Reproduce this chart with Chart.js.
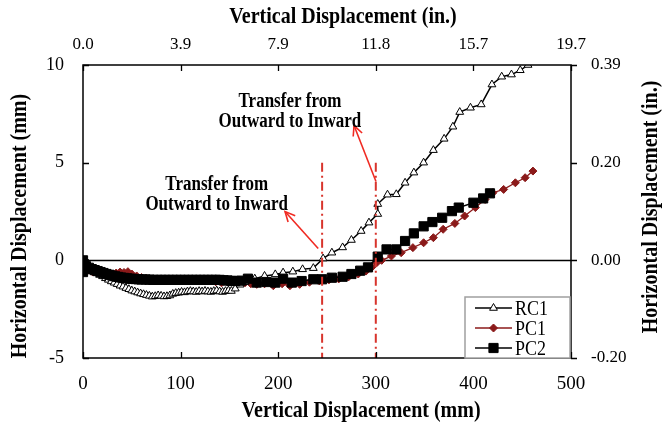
<!DOCTYPE html>
<html><head><meta charset="utf-8">
<script src="https://cdn.jsdelivr.net/npm/chart.js@4/dist/chart.umd.min.js"></script>
<style>html,body{margin:0;padding:0;background:#fff}#wrap{width:666px;height:427px;position:relative}</style>
</head><body><div id="wrap"><canvas id="c"></canvas></div>
<script>
// ---- data (mm) ----
const rc1X = [0,2,5,8,11,14,17,20,23,26,29,32,35,38,41,44,47,50,53,56,59,62,65,68,71,74,77,80,83,86,89,92,95,98,101,104,107,110,113,116,119,122,125,128,131,134,137,140,143,146,149,152,156,161,166,176,186,197,205,215,225,236,246,255,266,275,285,293,302,302,312,321,330,339,349,359,370,379,386,397,408,419,429,439,448,456];
const rc1Y = [0,-0.15,-0.3,-0.42,-0.55,-0.65,-0.75,-0.82,-0.92,-1.0,-1.08,-1.15,-1.22,-1.3,-1.35,-1.42,-1.48,-1.55,-1.6,-1.65,-1.7,-1.74,-1.78,-1.82,-1.86,-1.84,-1.8,-1.82,-1.85,-1.84,-1.8,-1.72,-1.68,-1.66,-1.62,-1.64,-1.6,-1.58,-1.6,-1.62,-1.58,-1.6,-1.57,-1.6,-1.62,-1.58,-1.55,-1.6,-1.62,-1.58,-1.55,-1.57,-1.45,-1.25,-1.12,-0.94,-0.8,-0.72,-0.63,-0.58,-0.46,-0.4,0.09,0.39,0.66,1.04,1.5,1.93,2.37,2.88,3.36,3.38,3.97,4.49,5.0,5.64,6.22,6.84,7.59,7.81,7.98,9.0,9.4,9.51,9.73,10.0];
const pc1X = [0,3,6,10,14,18,22,26,30,34,38,42,46,50,55,60,65,70,76,82,88,94,100,106,112,118,124,130,136,142,148,154,160,166,172,178,186,195,204,212,222,232,242,252,262,272,282,290,296,301,306,316,326,338,349,359,369,381,391,402,412,420,431,443,453,461];
const pc1Y = [0,-0.35,-0.5,-0.6,-0.62,-0.65,-0.68,-0.7,-0.7,-0.65,-0.6,-0.62,-0.58,-0.7,-0.8,-0.88,-0.93,-0.97,-1.0,-1.0,-1.0,-1.02,-1.0,-1.02,-1.0,-1.03,-1.05,-1.04,-1.1,-1.15,-1.1,-1.08,-1.12,-1.15,-1.2,-1.23,-1.2,-1.3,-1.2,-1.3,-1.23,-1.12,-1.05,-1.0,-0.95,-0.85,-0.7,-0.55,-0.35,-0.12,0.0,0.22,0.39,0.65,0.9,1.16,1.59,1.89,2.27,2.7,3.12,3.46,3.63,3.97,4.23,4.57];
const pc2X = [0,0,0,1,3,6,9,12,15,18,21,24,27,30,33,36,39,42,45,48,51,54,57,60,64,68,72,76,80,84,88,92,96,100,104,108,112,116,120,124,128,132,136,140,144,148,152,156,162,169,178,188,197,205,214,224,236,245,255,266,275,284,292,302,311,321,330,339,349,358,368,378,385,400,410,417];
const pc2Y = [0,-0.3,-0.6,-0.2,-0.3,-0.38,-0.45,-0.5,-0.55,-0.6,-0.65,-0.7,-0.74,-0.78,-0.82,-0.85,-0.88,-0.9,-0.92,-0.94,-0.95,-0.96,-0.97,-0.98,-0.98,-0.99,-1.0,-1.0,-1.0,-1.0,-1.0,-1.0,-1.0,-1.0,-1.0,-1.0,-1.0,-1.0,-1.0,-1.0,-1.0,-1.0,-1.0,-1.0,-1.02,-1.03,-1.05,-1.06,-1.04,-0.94,-1.14,-1.11,-1.14,-0.94,-1.14,-1.06,-0.97,-0.97,-0.89,-0.84,-0.7,-0.53,-0.36,0.19,0.56,0.56,0.99,1.38,1.74,1.96,2.18,2.52,2.7,2.95,3.17,3.43];
const seriesNames = ['RC1','PC1','PC2'];
const bottomTicks = [0,100,200,300,400,500];
const topTickLabels = ['0.0','3.9','7.9','11.8','15.7','19.7'];
const leftTicks = [10,5,0,-5];
const rightTickLabels = ['0.39','0.20','0.00','-0.20'];
const transferLinesX = [245,300];      // mm, vertical dash-dot markers
const transferLineRange = [-5,5];
// annotation: text centre, arrow tail, arrow head (data units)
const noteText = ['Transfer from','Outward to Inward'];
const note1 = {tx:137, ty:3.35, ax0:241, ay0:0.61, ax1:207, ay1:2.5};
const note2 = {tx:212, ty:7.6, ax0:300.2, ay0:4.04, ax1:277.7, ay1:6.9};

const FONT = '"Liberation Serif", "Times New Roman", serif';
const DARKRED = '#8b1a1a';
const STRETCH = 1.2;
const zip = (xs,ys)=>xs.map((x,i)=>({x, y:ys[i]}));

function tallText(ctx, txt, x, y, font, rot){
  ctx.save();
  ctx.translate(x,y);
  if (rot) ctx.rotate(rot);
  ctx.scale(1, STRETCH);
  ctx.font = font; ctx.fillStyle='#000'; ctx.textAlign='center'; ctx.textBaseline='middle';
  ctx.fillText(txt, 0, 0);
  ctx.restore();
}

const deco = {
  id:'deco',
  beforeDatasetsDraw(chart){
    const {ctx, chartArea:a, scales:{x,y}} = chart;
    ctx.save();
    ctx.strokeStyle='#000'; ctx.lineWidth=1.3;
    const y0 = Math.round(y.getPixelForValue(0))+0.5;
    ctx.beginPath(); ctx.moveTo(a.left,y0); ctx.lineTo(a.right,y0); ctx.stroke();
    ctx.restore();
  },
  afterDatasetsDraw(chart){
    const {ctx, chartArea:a, scales:{x,y}} = chart;
    ctx.save();
    // dash-dot lines
    ctx.strokeStyle='#d8342c'; ctx.lineWidth=2; ctx.setLineDash([9,4,2,4]);
    transferLinesX.forEach(v=>{
      const px = x.getPixelForValue(v);
      ctx.beginPath(); ctx.moveTo(px, y.getPixelForValue(transferLineRange[1]));
      ctx.lineTo(px, y.getPixelForValue(transferLineRange[0])); ctx.stroke();
    });
    ctx.setLineDash([]);
    // arrows + notes
    [note1,note2].forEach(n=>{
      const x0=x.getPixelForValue(n.ax0), y0=y.getPixelForValue(n.ay0);
      const x1=x.getPixelForValue(n.ax1), y1=y.getPixelForValue(n.ay1);
      ctx.strokeStyle='#f02a22'; ctx.lineWidth=1.6;
      ctx.beginPath(); ctx.moveTo(x0,y0); ctx.lineTo(x1,y1); ctx.stroke();
      const ang=Math.atan2(y0-y1,x0-x1), L=11, sp=0.45;
      ctx.beginPath();
      ctx.moveTo(x1+L*Math.cos(ang+sp), y1+L*Math.sin(ang+sp));
      ctx.lineTo(x1,y1);
      ctx.lineTo(x1+L*Math.cos(ang-sp), y1+L*Math.sin(ang-sp));
      ctx.stroke();
      const cx=x.getPixelForValue(n.tx), cy=y.getPixelForValue(n.ty);
      tallText(ctx, noteText[0], cx, cy-10, 'bold 17px '+FONT);
      tallText(ctx, noteText[1], cx, cy+10, 'bold 17px '+FONT);
    });
    // frame
    ctx.strokeStyle='#000'; ctx.lineWidth=1.5;
    ctx.strokeRect(a.left, a.top, a.right-a.left, a.bottom-a.top);
    // ticks
    ctx.lineWidth=1.3;
    const T=6;
    bottomTicks.forEach(v=>{
      const px=Math.round(x.getPixelForValue(v))+0.5;
      ctx.beginPath(); ctx.moveTo(px,a.bottom); ctx.lineTo(px,a.bottom-T);
      ctx.moveTo(px,a.top); ctx.lineTo(px,a.top+T); ctx.stroke();
    });
    leftTicks.forEach(v=>{
      const py=Math.round(y.getPixelForValue(v))+0.5;
      ctx.beginPath(); ctx.moveTo(a.left,py); ctx.lineTo(a.left+T,py);
      ctx.moveTo(a.right,py); ctx.lineTo(a.right+T,py); ctx.stroke();
    });
    // legend
    const lx=465, ly=297, lw=105, lh=61;
    ctx.fillStyle='#fff'; ctx.fillRect(lx,ly,lw,lh);
    ctx.strokeStyle='#a0a0a0'; ctx.lineWidth=1.5; ctx.strokeRect(lx,ly,lw,lh);
    chart.data.datasets.forEach((ds,i)=>{
      const yy = 308 + i*20;
      ctx.strokeStyle=ds.borderColor; ctx.lineWidth=1.5;
      ctx.beginPath(); ctx.moveTo(475,yy); ctx.lineTo(512,yy); ctx.stroke();
      ctx.save();
      ctx.fillStyle=ds.pointBackgroundColor; ctx.strokeStyle=ds.pointBorderColor; ctx.lineWidth=1;
      Chart.helpers.drawPoint(ctx,{pointStyle:ds.pointStyle, radius:ds.pointRadius, borderWidth:1, rotation:0},493.5,yy);
      ctx.restore();
      ctx.save();
      ctx.translate(515, yy+1); ctx.scale(1, STRETCH);
      ctx.fillStyle='#000'; ctx.font='18px '+FONT; ctx.textAlign='left'; ctx.textBaseline='middle';
      ctx.fillText(ds.label, 0, 0);
      ctx.restore();
    });
    ctx.restore();
  },
  afterDraw(chart){
    const ctx=chart.ctx;
    const f='bold 20px '+FONT;
    tallText(ctx,'Vertical Displacement (mm)', 361, 411, f);
    tallText(ctx,'Vertical Displacement (in.)', 343, 17, f);
    tallText(ctx,'Horizontal Displacement (mm)', 20, 226, f, -Math.PI/2);
    tallText(ctx,'Horizontal Displacement (in.)', 651, 207, f, -Math.PI/2);
  }
};

new Chart(document.getElementById('c'), {
  type:'scatter',
  data:{datasets:[
    {label:seriesNames[0], data:zip(rc1X,rc1Y), showLine:true, borderColor:'#000', borderWidth:1.5,
     pointStyle:'triangle', pointRadius:4.5, pointBackgroundColor:'#fff', pointBorderColor:'#000', pointBorderWidth:1, order:1},
    {label:seriesNames[1], data:zip(pc1X,pc1Y), showLine:true, borderColor:DARKRED, borderWidth:1.3,
     pointStyle:'rectRot', pointRadius:4, pointBackgroundColor:DARKRED, pointBorderColor:DARKRED, pointBorderWidth:1, order:2},
    {label:seriesNames[2], data:zip(pc2X,pc2Y), showLine:true, borderColor:'#000', borderWidth:1.5,
     pointStyle:'rect', pointRadius:6.5, pointBackgroundColor:'#000', pointBorderColor:'#000', pointBorderWidth:1, order:0}
  ]},
  options:{
    responsive:true, maintainAspectRatio:false, animation:false,
    layout:{padding:0},
    plugins:{legend:{display:false}, tooltip:{enabled:false}},
    elements:{line:{tension:0}},
    scales:{
      x:{type:'linear', position:'bottom', min:0, max:500,
         afterBuildTicks:s=>{s.ticks=bottomTicks.map(v=>({value:v}));},
         ticks:{font:{family:FONT,size:19}, color:'#000', padding:7, maxRotation:0},
         grid:{display:false}, border:{display:false},
         afterFit:s=>{s.height=69;}},
      x2:{type:'linear', position:'top', min:0, max:500,
         afterBuildTicks:s=>{s.ticks=bottomTicks.map(v=>({value:v}));},
         ticks:{font:{family:FONT,size:17}, color:'#000', padding:2, maxRotation:0,
                callback:(v,i)=>topTickLabels[i]},
         grid:{display:false}, border:{display:false},
         afterFit:s=>{s.height=65;}},
      y:{type:'linear', position:'left', min:-5, max:10,
         afterBuildTicks:s=>{s.ticks=leftTicks.slice().reverse().map(v=>({value:v}));},
         ticks:{font:{family:FONT,size:18}, color:'#000', padding:11},
         grid:{display:false}, border:{display:false},
         afterFit:s=>{s.width=83;}},
      y2:{type:'linear', position:'right', min:-5, max:10,
         afterBuildTicks:s=>{s.ticks=leftTicks.slice().reverse().map(v=>({value:v}));},
         ticks:{font:{family:FONT,size:17}, color:'#000', padding:12,
                callback:(v,i)=>rightTickLabels[rightTickLabels.length-1-i]},
         grid:{display:false}, border:{display:false},
         afterFit:s=>{s.width=95;}}
    }
  },
  plugins:[deco]
});
</script></body></html>
